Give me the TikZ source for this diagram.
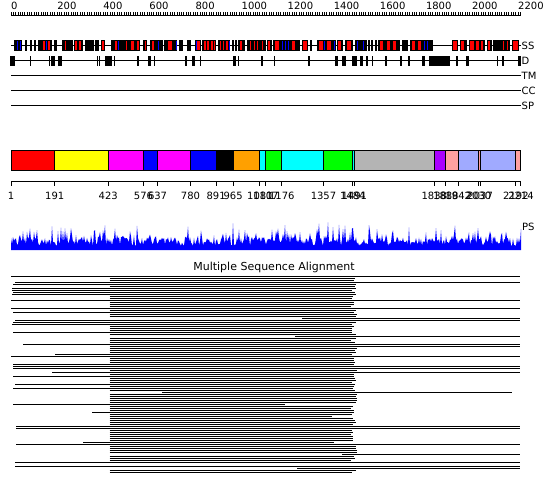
\documentclass[tikz,border=0pt]{standalone}
\usepackage{fontspec}
\setmainfont{DejaVu Sans}
\usepackage{xcolor}
\usepackage{tikz}
\usetikzlibrary{positioning}

\definecolor{domred}{RGB}{255,0,0}
\definecolor{domyellow}{RGB}{255,255,0}
\definecolor{dommagenta}{RGB}{255,0,255}
\definecolor{domblue}{RGB}{0,0,255}
\definecolor{domcyan}{RGB}{0,255,255}
\definecolor{domgreen}{RGB}{0,255,0}
\definecolor{domorange}{RGB}{255,160,0}
\definecolor{domgray}{RGB}{180,180,180}
\definecolor{dompurple}{RGB}{170,0,255}
\definecolor{dompink}{RGB}{255,160,160}
\definecolor{domlblue}{RGB}{160,170,255}
\def\pxres{0.23046}

\begin{document}
\begin{tikzpicture}[
  x=1pt, y=-1pt,
  font=\fontsize{10}{12}\selectfont,
  trackline/.style={line width=1pt},
  rulertick/.style={line width=0.8pt},
  ssbox/.style={fill=black},
  helixbar/.style={fill=domred},
  strandbar/.style={fill=domblue},
  disbox/.style={fill=black},
  domseg/.style={draw=black, line width=1pt},
  alnrow/.style={line width=1pt},
  tracklab/.style={anchor=base west, inner sep=0pt},
  poslab/.style={anchor=base, inner sep=0pt}
]
\useasboundingbox[fill=white] (0,0) rectangle (550,495);
\pgfmathsetseed{4}

\draw[trackline] (11,15.5) -- (521,15.5);
\foreach \r in {0,10,...,2210}
  \draw[rulertick] ({11+\r*\pxres},15.5) -- ({11+\r*\pxres},12);
\foreach \r in {0,200,...,2200}
  \node[tracklab] (ruler\r) at ({11+\r*\pxres},10) {\r};

\draw[trackline] (11,45.5) -- (521,45.5);
\foreach \a/\b in {14/22, 25/27, 30/32, 34/36, 38/52, 54/57, 62/73, 74/83, 85/94, 95/99,
    101/105, 111/140, 143/147, 150/163, 164/177, 179/183, 187/191, 195/201, 202/216,
    218/230, 232/234, 235/237, 238/245, 247/266, 267/272, 273/300, 302/308, 310/312,
    317/336, 337/343, 345/353, 355/367, 368/370, 371/373, 375/377, 378/400, 402/408,
    410/433, 452/458, 460/467, 469/485, 487/492, 493/510, 512/519}
  \fill[ssbox] (\a,40) rectangle (\b,51);
\foreach \a/\b in {43/45, 48/50, 65/66, 75/77, 79/81, 102/104, 115/117, 126/127, 131/134,
    137/138.5, 145/146, 152/154, 168/172, 197/200, 204/205.5, 207/209, 211/212.5,
    213.5/215, 220/221, 223/224, 225.5/226.5, 227/228, 240/242, 250/251, 254/255,
    257/258, 262/263, 268/270, 275/279, 292/295, 303/307, 319/323, 327/331, 338/341,
    347/351, 380/383, 387/390, 393/396, 412/415, 418/421, 453/457, 461/464, 470/474,
    476/479, 481/483, 488/490, 503/504, 507/508, 513/518}
  \fill[helixbar] (\a,41) rectangle (\b,50);
\foreach \a/\b in {17/18, 20/21, 46/47, 118/119, 158/159, 176/177, 196/197, 229/230,
    282/283, 285/286, 288/289, 324/325, 334/335, 357/358, 363/364, 424/425, 427/428}
  \fill[strandbar] (\a,41) rectangle (\b,50);
\node[tracklab] (sslab) at (521.5,49.5) {SS};

\draw[trackline] (11,60.5) -- (521,60.5);
\foreach \a/\b in {10/15, 30/31, 49/50, 51/55, 58/62, 97/98, 99/100, 105/112, 114/115,
    137/139, 148/151, 154/155, 185/187, 192/195, 200/201, 233/236, 238/239, 261/263,
    274/275, 308/310, 335/338, 342/346, 352/357, 360/363, 366/368, 372/373, 385/387,
    400/402, 408/410, 422/425, 429/450, 456/458, 466/469, 497/498, 502/503.5, 518/521}
  \fill[disbox] (\a,56) rectangle (\b,66);
\node[tracklab] (dlab) at (521.5,65) {D};

\draw[trackline] (11,75.5) -- (521,75.5);
\node[tracklab] (tmlab) at (521.5,79.5) {TM};
\draw[trackline] (11,90.5) -- (521,90.5);
\node[tracklab] (cclab) at (521.5,94.5) {CC};
\draw[trackline] (11,105.5) -- (521,105.5);
\node[tracklab] (splab) at (521.5,109.5) {SP};

\foreach \a/\b/\c in {1/191/domred, 191/423/domyellow, 423/576/dommagenta, 576/637/domblue,
    637/780/dommagenta, 780/891/domblue, 891/965/black, 965/1081/domorange, 1081/1107/domcyan,
    1107/1176/domgreen, 1176/1357/domcyan, 1357/1484/domgreen, 1484/1491/domcyan,
    1491/1838/domgray, 1838/1888/dompurple, 1888/1942/dompink, 1942/2030/domlblue,
    2030/2037/dompink, 2037/2192/domlblue, 2192/2214/dompink}
  \filldraw[domseg, fill=\c] ({11+(\a-1)*\pxres},150.5) rectangle ({11+(\b-1)*\pxres},170.5);

\draw[trackline] (11,181.5) -- (521,181.5);
\foreach \p in {1,191,423,576,637,780,891,965,1081,1107,1176,1357,1484,1491,1838,1888,
    1942,2030,2037,2192,2214} {
  \draw[trackline] ({11+(\p-1)*\pxres},181.5) -- ++(0,5);
  \node[poslab] (pos\p) at ({11+(\p-1)*\pxres},200) {\p};
}

\fill[domblue] (11,250) \foreach \x in {11,12,...,521} {
    -- (\x,{250-4-9*rnd-17*pow(rnd,6)}) } -- (521,250) -- cycle;
\node[tracklab] (pslab) at (522,230) {PS};

\node[poslab, font=\fontsize{11}{13}\selectfont] (msatitle) at (274,270)
  {Multiple Sequence Alignment};

\foreach \i in {0,...,20,22,23,...,29,31,32,...,57,59,60,...,63,65,66,...,69,
    71,72,...,82,84,85,...,88,90,91,92,93,95,97,98}
  \draw[alnrow] (109.5,{276.5+2*\i}) -- ({351+6*rnd},{276.5+2*\i});
\draw[alnrow] (109.5,404.5) -- (285,404.5);
\draw[alnrow] (109.5,416.5) -- (332,416.5);
\draw[alnrow] (109.5,442.5) -- (334,442.5);
\draw[alnrow] (162,392.5) -- (511.7,392.5);
\draw[alnrow] (302,318.5) -- (520,318.5);
\draw[alnrow] (295,336.5) -- (520,336.5);
\draw[alnrow] (342,454.5) -- (520,454.5);
\draw[alnrow] (297,468.5) -- (520,468.5);
\foreach \i/\xs in {0/11, 3/15, 4/13, 6/12, 7/12, 8/13, 9/12, 12/11, 16/11, 18/13, 22/15,
    23/13, 24/12, 28/13, 34/23, 39/55, 40/11, 44/13, 45/13, 46/13, 48/52, 50/13, 54/15,
    56/13, 64/13, 68/92, 75/16, 76/16, 83/83, 84/16, 93/15, 95/15}
  \draw[alnrow] (\xs,{276.5+2*\i}) -- (110,{276.5+2*\i});
\foreach \i in {0,3,12,16,22,34,35,40,45,46,48,75,76,84,93,95}
  \draw[alnrow] (350,{276.5+2*\i}) -- (520,{276.5+2*\i});

\end{tikzpicture}
\end{document}
